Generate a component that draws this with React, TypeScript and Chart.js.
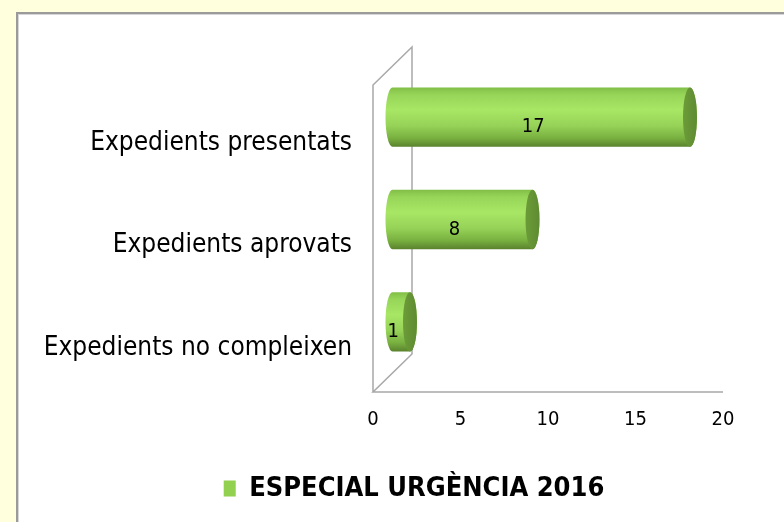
import React, { useEffect, useRef } from "react";
import { Chart, registerables } from "chart.js";

Chart.register(...registerables);

const categories = ["Expedients presentats", "Expedients aprovats", "Expedients no compleixen"];
const seriesName = "ESPECIAL URGÈNCIA 2016";
const values = [17, 8, 1];
const xMin = 0;
const xMax = 20;
const xStep = 5;

const FONT = "'DejaVu Sans Condensed', 'DejaVu Sans', sans-serif";
const NUM_FONT = "'Liberation Sans Narrow', 'DejaVu Sans Condensed', sans-serif";
const DEPTH_X = 39;
const DEPTH_Y = 38;
const CAP_RX = 7;
const LEGEND_CENTER_X = 414;

const cylinderPlugin = {
  id: "cyl3d",
  afterLayout(chart: any) {
    const lg = chart.legend;
    if (lg) {
      const shift = LEGEND_CENTER_X - (lg.left + lg.right) / 2;
      lg.left += shift;
      lg.right += shift;
    }
  },
  beforeDraw(chart: any) {
    const { ctx, width, height } = chart;
    ctx.save();
    ctx.fillStyle = "#FFFFDD";
    ctx.fillRect(0, 0, width, height);
    ctx.fillStyle = "#ffffff";
    ctx.fillRect(16, 12, width - 16, height - 12);
    ctx.fillStyle = "#9a9a9a";
    ctx.fillRect(16, 12, width - 16, 2);
    ctx.fillRect(16, 12, 2, height - 12);
    ctx.fillStyle = "#d6d6d6";
    ctx.fillRect(18, 14, width - 18, 1);
    ctx.fillRect(18, 14, 1, height - 14);
    ctx.restore();
  },
  beforeDatasetsDraw(chart: any) {
    const { ctx, chartArea: a } = chart;
    ctx.save();
    // 3D walls
    ctx.strokeStyle = "#a8a8a8";
    ctx.lineWidth = 1.5;
    ctx.beginPath();
    ctx.moveTo(a.left, a.bottom);
    ctx.lineTo(a.left, a.top);
    ctx.lineTo(a.left + DEPTH_X, a.top - DEPTH_Y);
    ctx.lineTo(a.left + DEPTH_X, a.bottom - DEPTH_Y);
    ctx.lineTo(a.left, a.bottom);
    ctx.lineTo(a.right, a.bottom);
    ctx.stroke();

    const meta = chart.getDatasetMeta(0);
    const dx = DEPTH_X / 2;
    const dy = DEPTH_Y / 2;
    meta.data.forEach((bar: any, i: number) => {
      const p = bar.getProps(["x", "y", "base", "height"], true);
      const x0 = p.base + dx;
      const x1 = p.x + dx;
      const yc = p.y - dy;
      const h = p.height;
      const top = yc - h / 2;
      const bot = yc + h / 2;
      const ry = h / 2;

      const g = ctx.createLinearGradient(0, top, 0, bot);
      g.addColorStop(0, "#80be46");
      g.addColorStop(0.12, "#97d559");
      g.addColorStop(0.38, "#a8e665");
      g.addColorStop(0.65, "#95d257");
      g.addColorStop(0.85, "#79b140");
      g.addColorStop(1, "#5a822d");
      ctx.fillStyle = g;
      ctx.beginPath();
      ctx.moveTo(x0, top);
      ctx.lineTo(x1, top);
      ctx.ellipse(x1, yc, CAP_RX, ry, 0, -Math.PI / 2, Math.PI / 2, false);
      ctx.lineTo(x0, bot);
      ctx.ellipse(x0, yc, CAP_RX, ry, 0, Math.PI / 2, Math.PI * 1.5, false);
      ctx.closePath();
      ctx.fill();

      const gc = ctx.createLinearGradient(x1 - CAP_RX, 0, x1 + CAP_RX, 0);
      gc.addColorStop(0, "#6c9c39");
      gc.addColorStop(1, "#5e8b31");
      ctx.fillStyle = gc;
      ctx.beginPath();
      ctx.ellipse(x1, yc, CAP_RX, ry, 0, 0, Math.PI * 2);
      ctx.fill();

      ctx.fillStyle = "#000";
      ctx.font = `20px ${NUM_FONT}`;
      ctx.textAlign = "center";
      ctx.textBaseline = "middle";
      ctx.fillText(String(values[i]), (x0 + x1) / 2 - 8, yc + 10);
    });
    ctx.restore();
    return false;
  },
};

export default function App() {
  const ref = useRef<HTMLCanvasElement | null>(null);
  useEffect(() => {
    if (!ref.current) return;
    const chart = new Chart(ref.current, {
      type: "bar",
      data: {
        labels: categories,
        datasets: [
          {
            label: seriesName,
            data: values,
            backgroundColor: "#92D050",
            borderWidth: 0,
            categoryPercentage: 1,
            barPercentage: 0.58,
          },
        ],
      },
      options: {
        indexAxis: "y",
        responsive: false,
        animation: false,
        devicePixelRatio: 1,
        layout: { padding: { top: 85, left: 20, right: 61, bottom: 10 } },
        scales: {
          x: {
            min: xMin,
            max: xMax,
            ticks: {
              stepSize: xStep,
              color: "#000",
              font: { family: NUM_FONT, size: 20 },
              padding: 16,
              maxRotation: 0,
            },
            grid: { display: false, drawTicks: false },
            border: { display: false },
            afterFit: (s: any) => {
              s.height = 73;
            },
          },
          y: {
            ticks: {
              color: "#000",
              font: { family: FONT, size: 26 },
              padding: 21,
              labelOffset: 7,
            },
            grid: { display: false, drawTicks: false },
            border: { display: false },
            afterFit: (s: any) => {
              s.width = 353;
            },
          },
        },
        plugins: {
          legend: {
            position: "bottom",
            labels: {
              boxWidth: 12,
              boxHeight: 16,
              padding: 10,
              color: "#000",
              font: { family: FONT, size: 27, weight: "bold" },
            },
          },
          tooltip: { enabled: false },
        },
      },
      plugins: [cylinderPlugin],
    } as any);
    return () => chart.destroy();
  }, []);
  return (
    <div style={{ position: "fixed", left: 0, top: 0, width: 784, height: 522 }}>
      <canvas ref={ref} width={784} height={522} style={{ display: "block" }} />
    </div>
  );
}
